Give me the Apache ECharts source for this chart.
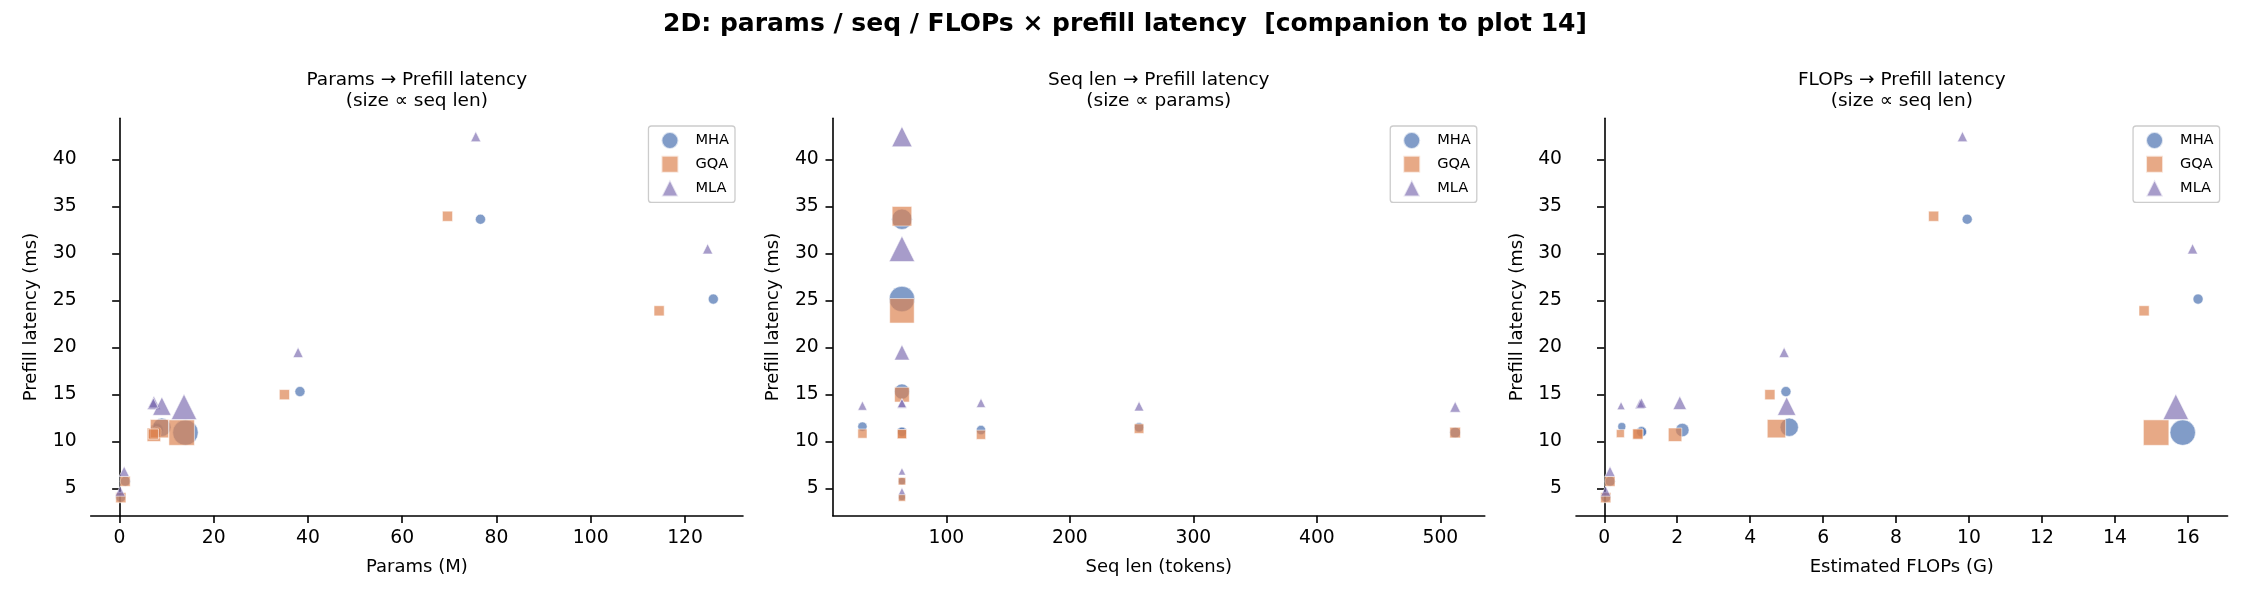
<!DOCTYPE html>
<html><head><meta charset="utf-8">
<script src="https://cdn.jsdelivr.net/npm/echarts@6/dist/echarts.min.js"></script>
<style>html,body{margin:0;padding:0;background:#fff}#c{width:2250px;height:600px}</style>
</head><body><div id="c"></div>
<script>
// ---- data ----
const types = ['MHA', 'GQA', 'MLA'];
const mhaParams = [7.9, 7.9, 7.9, 9.0, 14.0, 0.25, 1.25, 7.9, 38.3, 76.6, 126.0];
const mhaSeq    = [32, 64, 128, 256, 512, 64, 64, 64, 64, 64, 64];
const mhaFlops  = [0.48, 1.02, 2.14, 5.07, 15.86, 0.04, 0.16, 1.02, 4.98, 9.95, 16.28];
const mhaLat    = [11.57, 11.03, 11.2, 11.5, 10.93, 4.05, 5.75, 11.0, 15.3, 33.65, 25.15];

const gqaParams = [7.1, 7.2, 7.3, 8.5, 13.2, 0.3, 1.2, 7.2, 35.0, 69.6, 114.5];
const gqaSeq    = [32, 64, 128, 256, 512, 64, 64, 64, 64, 64, 64];
const gqaFlops  = [0.44, 0.92, 1.94, 4.72, 15.13, 0.04, 0.155, 0.92, 4.54, 9.03, 14.8];
const gqaLat    = [10.82, 10.75, 10.7, 11.35, 10.93, 4.0, 5.75, 10.78, 14.97, 33.97, 23.9];

const mlaParams = [7.2, 7.2, 7.3, 9.0, 13.7, 0.15, 1.0, 7.2, 37.9, 75.6, 124.8];
const mlaSeq    = [32, 64, 128, 256, 512, 64, 64, 64, 64, 64, 64];
const mlaFlops  = [0.46, 0.98, 2.07, 5.0, 15.67, 0.038, 0.156, 1.02, 4.93, 9.82, 16.13];
const mlaLat    = [13.8, 14.0, 14.1, 13.75, 13.67, 4.7, 6.8, 14.08, 19.47, 42.45, 30.5];

const yTicks = [5, 10, 15, 20, 25, 30, 35, 40];
const xTicks1 = [0, 20, 40, 60, 80, 100, 120];
const xTicks2 = [100, 200, 300, 400, 500];
const xTicks3 = [0, 2, 4, 6, 8, 10, 12, 14, 16];

const mainTitle = '2D: params / seq / FLOPs \u00d7 prefill latency  [companion to plot 14]';
const panelTitles = ['Params \u2192 Prefill latency\n(size \u221d seq len)',
                     'Seq len \u2192 Prefill latency\n(size \u221d params)',
                     'FLOPs \u2192 Prefill latency\n(size \u221d seq len)'];
const xNames = ['Params (M)', 'Seq len (tokens)', 'Estimated FLOPs (G)'];
const yName = 'Prefill latency (ms)';

// ---- build ----
const D = {
  MHA: {p: mhaParams, s: mhaSeq, f: mhaFlops, l: mhaLat},
  GQA: {p: gqaParams, s: gqaSeq, f: gqaFlops, l: gqaLat},
  MLA: {p: mlaParams, s: mlaSeq, f: mlaFlops, l: mlaLat}
};
const colors = {MHA: '#4C72B0', GQA: '#DD8452', MLA: '#8172B3'};
const symbols = {MHA: 'circle', GQA: 'rect', MLA: 'triangle'};
const FONT = 'DejaVu Sans';

const grids = [
  {left: 90.7, top: 118.3, width: 652.3, height: 397.4},
  {left: 832.8, top: 118.3, width: 652, height: 397.4},
  {left: 1576, top: 118.3, width: 651.6, height: 397.4}
];
const xRanges = [[-6.1, 132.3], [8, 536], [-0.776, 17.09]];
const xTickSets = [xTicks1, xTicks2, xTicks3];

const axisCommon = {
  type: 'value',
  axisLine: {show: true, lineStyle: {color: '#000', width: 1.6}},
  axisTick: {show: true, length: 7.3, lineStyle: {color: '#000', width: 1.6}},
  splitLine: {show: false},
  nameLocation: 'middle',
  nameTextStyle: {fontSize: 18, color: '#000', fontFamily: FONT}
};

const xAxis = [], yAxis = [];
for (let i = 0; i < 3; i++) {
  xAxis.push(Object.assign({}, axisCommon, {
    gridIndex: i, min: xRanges[i][0], max: xRanges[i][1],
    name: xNames[i], nameGap: 43,
    axisTick: Object.assign({}, axisCommon.axisTick, {customValues: xTickSets[i]}),
    axisLabel: {customValues: xTickSets[i], fontSize: 18.75, color: '#000', fontFamily: FONT, margin: 13}
  }));
  yAxis.push(Object.assign({}, axisCommon, {
    gridIndex: i, min: 2.08, max: 44.4,
    name: yName, nameGap: 50,
    axisTick: Object.assign({}, axisCommon.axisTick, {customValues: yTicks}),
    axisLabel: {customValues: yTicks, fontSize: 18.75, color: '#000', fontFamily: FONT, margin: 14}
  }));
}

function sizeSeq(v) { return Math.sqrt(25 + 1.22 * v[2]); }
function sizeParams(v) { return Math.sqrt(50 + 4.8 * v[2]); }

const series = [];
for (let i = 0; i < 3; i++) {
  types.forEach(t => {
    const d = D[t];
    let data;
    if (i === 0) data = d.p.map((x, k) => [x, d.l[k], d.s[k]]);
    else if (i === 1) data = d.s.map((x, k) => [x, d.l[k], d.p[k]]);
    else data = d.f.map((x, k) => [x, d.l[k], d.s[k]]);
    series.push({
      type: 'scatter', name: t, xAxisIndex: i, yAxisIndex: i,
      symbol: symbols[t],
      symbolSize: i === 1 ? sizeParams : sizeSeq,
      itemStyle: {color: colors[t], opacity: 0.7, borderColor: '#ffffff', borderWidth: 0.8},
      emphasis: {disabled: true},
      data: data
    });
  });
}

const axRights = grids.map(g => g.left + g.width);
const legends = axRights.map(r => ({
  orient: 'vertical', right: 2250 - (r - 8), top: 126,
  itemWidth: 17, itemHeight: 17, itemGap: 4.7,
  padding: [5, 6, 5, 12],
  backgroundColor: 'rgba(255,255,255,0.8)', borderColor: '#cccccc', borderWidth: 1.3, borderRadius: 3,
  textStyle: {fontSize: 14.6, color: '#000', fontFamily: FONT, padding: [0, 0, 0, 12]},
  selectedMode: false,
  data: types.map(t => ({name: t, icon: symbols[t]}))
}));

const titles = [{
  text: mainTitle, left: 1125, top: 9, textAlign: 'center', padding: 0,
  textStyle: {fontSize: 25, fontWeight: 'bold', color: '#000', fontFamily: FONT, lineHeight: 30}
}];
grids.forEach((g, i) => titles.push({
  text: panelTitles[i], left: g.left + g.width / 2, top: 69, textAlign: 'center', padding: 0,
  textStyle: {fontSize: 18.5, fontWeight: 'normal', color: '#000', fontFamily: FONT, lineHeight: 21.5}
}));

const chart = echarts.init(document.getElementById('c'), null, {renderer: 'canvas'});
chart.setOption({
  animation: false,
  backgroundColor: '#ffffff',
  textStyle: {fontFamily: FONT},
  title: titles,
  legend: legends,
  grid: grids,
  xAxis: xAxis,
  yAxis: yAxis,
  series: series
});
</script></body></html>
